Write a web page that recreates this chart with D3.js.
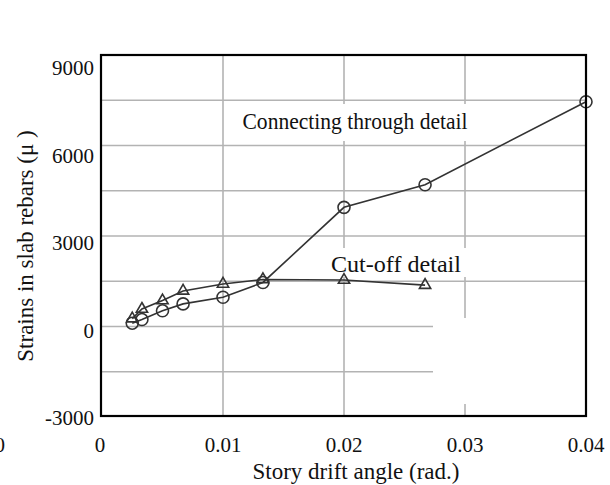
<!DOCTYPE html>
<html>
<head>
<meta charset="utf-8">
<script src="https://cdn.jsdelivr.net/npm/d3@7"></script>
<style>
  body { margin: 0; background: #fff; }
  text { font-family: "Liberation Serif", "Times New Roman", serif; fill: #111; }
</style>
</head>
<body>
<script>
// drift angle (rad.) for each loading step
var driftConnect = [0.0025, 0.0033, 0.005, 0.0067, 0.01, 0.0133, 0.02, 0.0267, 0.04];
var strainConnect = [110, 230, 520, 750, 970, 1460, 3950, 4700, 7450];
var driftCutoff = [0.0025, 0.0033, 0.005, 0.0067, 0.01, 0.0133, 0.02, 0.0267];
var strainCutoff = [260, 580, 860, 1180, 1410, 1560, 1540, 1370];

var xTicks = [0, 0.01, 0.02, 0.03, 0.04];
var yTicks = [-3000, 0, 3000, 6000, 9000];
var yGrid = [-1500, 0, 1500, 3000, 4500, 6000, 7500];
var xGrid = [0.01, 0.02, 0.03];

var width = 610, height = 485;
var plotLeft = 101, plotRight = 586, plotTop = 55, plotBottom = 416;

var svg = d3.select("body").append("svg")
    .attr("width", width)
    .attr("height", height);

var xScale = d3.scaleLinear().domain([0, 0.04]).range([102, 586]);
var yScale = d3.scaleLinear().domain([-3000, 9000]).range([417, 55]);
// tick labels in the scan sit a little below their grid lines
var yLabel = d3.scaleLinear().domain([-3000, 9000]).range([418, 68]);

var grid = svg.append("g").attr("stroke", "#b3b3b3").attr("stroke-width", 1.6);
grid.selectAll("line.h")
    .data(yGrid)
    .enter().append("line")
    .attr("class", "h")
    .attr("x1", plotLeft).attr("x2", plotRight)
    .attr("y1", function (d) { return yScale(d); })
    .attr("y2", function (d) { return yScale(d); });
grid.selectAll("line.v")
    .data(xGrid)
    .enter().append("line")
    .attr("class", "v")
    .attr("x1", function (d) { return xScale(d); })
    .attr("x2", function (d) { return xScale(d); })
    .attr("y1", plotTop).attr("y2", plotBottom);

// blank patch in the lower right of the original scan
svg.append("rect")
    .attr("x", 433).attr("y", 318)
    .attr("width", plotRight - 433 - 1).attr("height", 86)
    .attr("fill", "#fff");

// label boxes hide the grid behind them
svg.append("rect").attr("x", 236).attr("y", 104).attr("width", 238).attr("height", 37).attr("fill", "#fff");
svg.append("rect").attr("x", 326).attr("y", 248).attr("width", 144).attr("height", 29).attr("fill", "#fff");

var line = d3.line()
    .x(function (d) { return xScale(d[0]); })
    .y(function (d) { return yScale(d[1]); });

var connectData = driftConnect.map(function (d, i) { return [d, strainConnect[i]]; });
var cutoffData = driftCutoff.map(function (d, i) { return [d, strainCutoff[i]]; });

svg.append("path")
    .datum(cutoffData)
    .attr("d", line)
    .attr("fill", "none")
    .attr("stroke", "#333")
    .attr("stroke-width", 1.6);

svg.append("path")
    .datum(connectData)
    .attr("d", line)
    .attr("fill", "none")
    .attr("stroke", "#333")
    .attr("stroke-width", 1.6);

var tri = d3.symbol().type(d3.symbolTriangle).size(55);
svg.selectAll("path.tri")
    .data(cutoffData)
    .enter().append("path")
    .attr("class", "tri")
    .attr("d", tri)
    .attr("transform", function (d) { return "translate(" + xScale(d[0]) + "," + yScale(d[1]) + ")"; })
    .attr("fill", "none")
    .attr("stroke", "#333")
    .attr("stroke-width", 1.6);

svg.selectAll("circle.pt")
    .data(connectData)
    .enter().append("circle")
    .attr("class", "pt")
    .attr("r", 6)
    .attr("cx", function (d) { return xScale(d[0]); })
    .attr("cy", function (d) { return yScale(d[1]); })
    .attr("fill", "none")
    .attr("stroke", "#333")
    .attr("stroke-width", 1.6);

// frame
svg.append("rect")
    .attr("x", plotLeft).attr("y", plotTop)
    .attr("width", plotRight - plotLeft).attr("height", plotBottom - plotTop)
    .attr("fill", "none")
    .attr("stroke", "#000")
    .attr("stroke-width", 2.2);

// annotations
svg.append("text")
    .attr("x", 355).attr("y", 129)
    .attr("text-anchor", "middle")
    .attr("textLength", 225).attr("lengthAdjust", "spacingAndGlyphs")
    .style("font-size", "24px")
    .text("Connecting through detail");
svg.append("text")
    .attr("x", 396).attr("y", 272)
    .attr("text-anchor", "middle")
    .attr("textLength", 130).attr("lengthAdjust", "spacingAndGlyphs")
    .style("font-size", "24px")
    .text("Cut-off detail");

// tick labels
svg.selectAll("text.ytick")
    .data(yTicks)
    .enter().append("text")
    .attr("class", "ytick")
    .attr("x", 94)
    .attr("y", function (d) { return yLabel(d); })
    .attr("dy", "0.35em")
    .attr("text-anchor", "end")
    .style("font-size", "21px")
    .text(function (d) { return d; });

svg.selectAll("text.xtick")
    .data(xTicks)
    .enter().append("text")
    .attr("class", "xtick")
    .attr("x", function (d) { return xScale(d) - (d === 0 ? 2 : 0); })
    .attr("y", 452)
    .attr("text-anchor", "middle")
    .style("font-size", "21px")
    .text(function (d) { return d; });

// stray label cut off at the left edge of the scan
svg.append("text")
    .attr("x", 5).attr("y", 452)
    .attr("text-anchor", "end")
    .style("font-size", "21px")
    .text("0");

svg.append("text")
    .attr("x", 356).attr("y", 479)
    .attr("text-anchor", "middle")
    .style("font-size", "23px")
    .text("Story drift angle (rad.)");

svg.append("text")
    .attr("transform", "translate(33,246)rotate(-90)")
    .attr("text-anchor", "middle")
    .style("font-size", "23px")
    .text("Strains in slab rebars (\u03bc )");
</script>
</body>
</html>
